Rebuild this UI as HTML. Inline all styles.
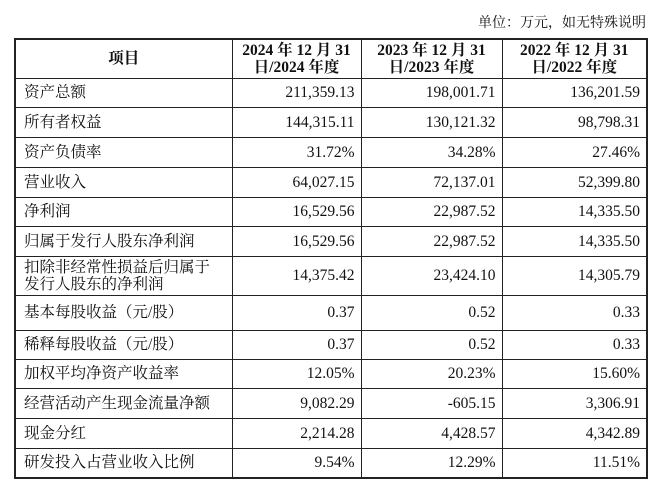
<!DOCTYPE html>
<html><head><meta charset="utf-8"><style>
body{margin:0;width:660px;height:497px;background:#fff;font-family:"Liberation Serif","Noto Serif CJK SC",serif;color:#111;overflow:hidden}
.unit{position:absolute;right:14px;top:12px;font-size:14px}
table{position:absolute;left:14px;top:38px;width:632px;border-collapse:collapse;font-size:15.5px;table-layout:fixed;border:2px solid #222}
td,th{border:1px solid #222;padding:0 6px;line-height:17px;box-sizing:border-box}
th{font-weight:bold;height:39px}
td{height:30px}
td.n{text-align:right}
td.l{text-align:left;padding-left:8px;padding-right:2px}
tr.tall td{height:39px}
tr.mid td{height:35px}
tr.s td{height:29px}
</style></head><body>
<div class="unit">单位：万元，如无特殊说明</div>
<table>
<colgroup><col style="width:217px"><col style="width:129px"><col style="width:141px"><col style="width:145px"></colgroup>
<tr><th>项目</th><th>2024 年 12 月 31 日/2024 年度</th><th>2023 年 12 月 31 日/2023 年度</th><th>2022 年 12 月 31 日/2022 年度</th></tr>
<tr class="s"><td class="l">资产总额</td><td class="n">211,359.13</td><td class="n">198,001.71</td><td class="n">136,201.59</td></tr>
<tr><td class="l">所有者权益</td><td class="n">144,315.11</td><td class="n">130,121.32</td><td class="n">98,798.31</td></tr>
<tr><td class="l">资产负债率</td><td class="n">31.72%</td><td class="n">34.28%</td><td class="n">27.46%</td></tr>
<tr><td class="l">营业收入</td><td class="n">64,027.15</td><td class="n">72,137.01</td><td class="n">52,399.80</td></tr>
<tr class="s"><td class="l">净利润</td><td class="n">16,529.56</td><td class="n">22,987.52</td><td class="n">14,335.50</td></tr>
<tr><td class="l">归属于发行人股东净利润</td><td class="n">16,529.56</td><td class="n">22,987.52</td><td class="n">14,335.50</td></tr>
<tr class="tall"><td class="l">扣除非经常性损益后归属于<br>发行人股东的净利润</td><td class="n">14,375.42</td><td class="n">23,424.10</td><td class="n">14,305.79</td></tr>
<tr class="mid"><td class="l">基本每股收益（元/股）</td><td class="n">0.37</td><td class="n">0.52</td><td class="n">0.33</td></tr>
<tr class="s"><td class="l">稀释每股收益（元/股）</td><td class="n">0.37</td><td class="n">0.52</td><td class="n">0.33</td></tr>
<tr class="s"><td class="l">加权平均净资产收益率</td><td class="n">12.05%</td><td class="n">20.23%</td><td class="n">15.60%</td></tr>
<tr><td class="l">经营活动产生现金流量净额</td><td class="n">9,082.29</td><td class="n">-605.15</td><td class="n">3,306.91</td></tr>
<tr><td class="l">现金分红</td><td class="n">2,214.28</td><td class="n">4,428.57</td><td class="n">4,342.89</td></tr>
<tr><td class="l">研发投入占营业收入比例</td><td class="n">9.54%</td><td class="n">12.29%</td><td class="n">11.51%</td></tr>
</table>
</body></html>
